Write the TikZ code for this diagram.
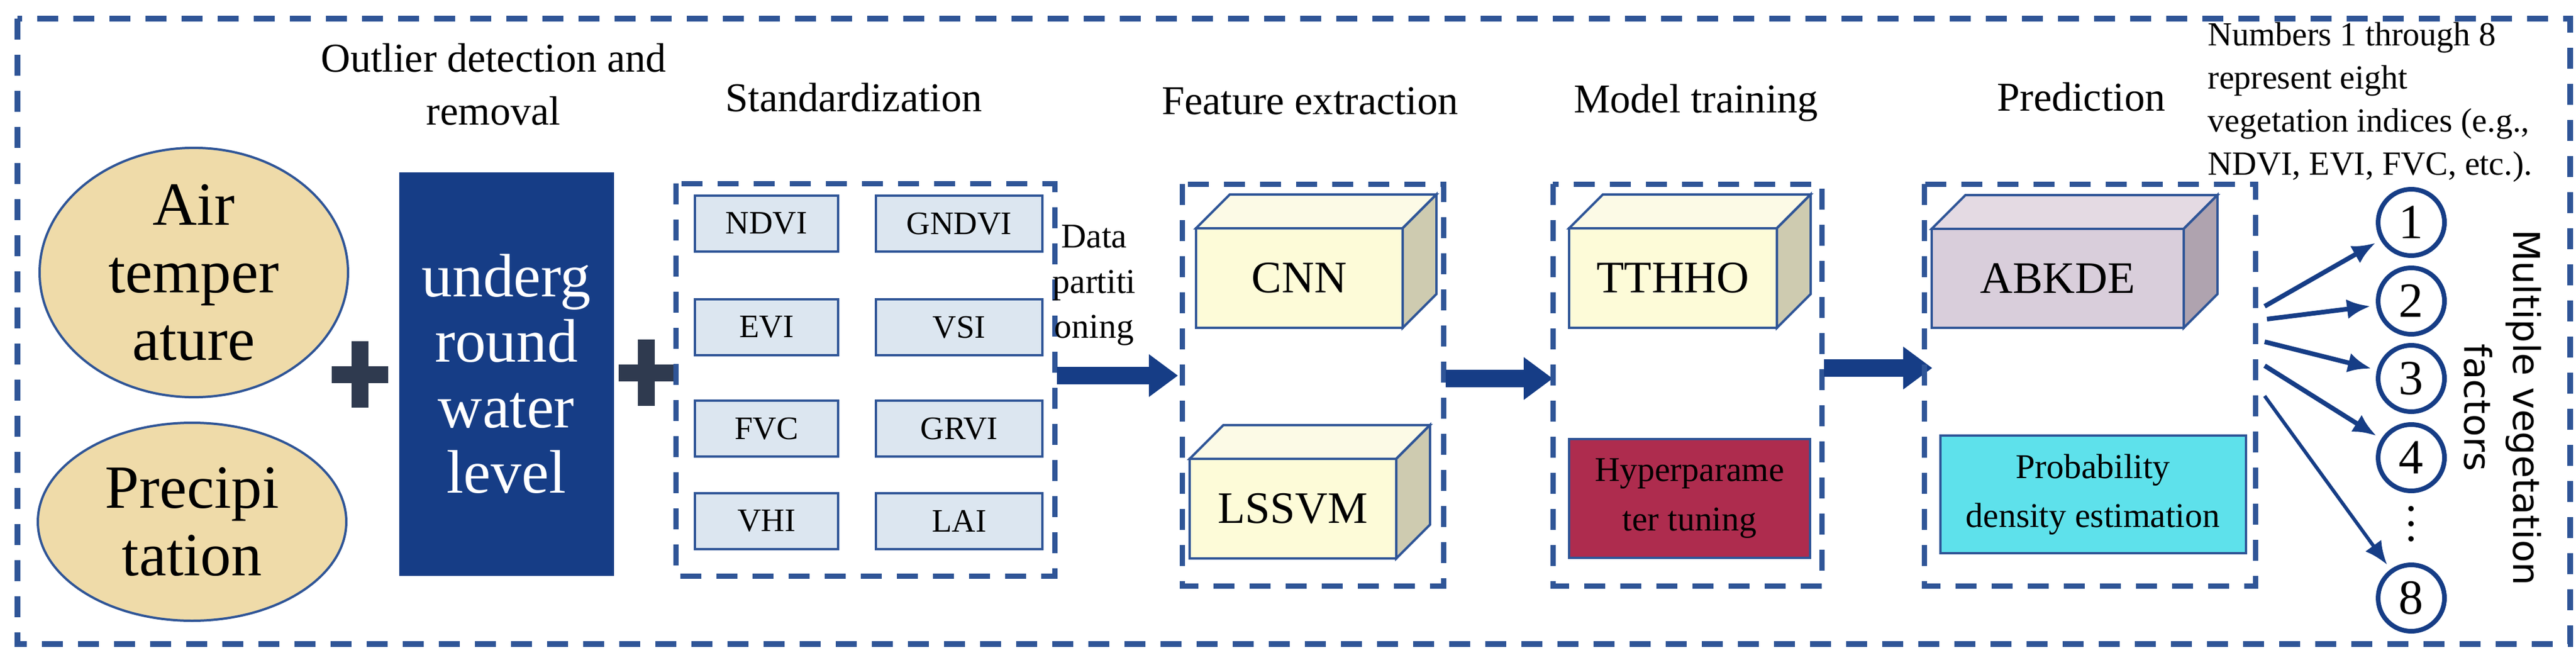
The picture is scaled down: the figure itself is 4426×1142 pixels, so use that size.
\documentclass[tikz,border=0pt]{standalone}
\usepackage{fontspec}
\setmainfont{Liberation Serif}
\newfontfamily\bigserif{Liberation Serif}
\newfontfamily\sansf{DejaVu Sans}
\usetikzlibrary{arrows.meta,shapes.geometric,positioning}

\definecolor{frameblue}{HTML}{2F5597}
\definecolor{deepblue}{HTML}{163D86}
\definecolor{sand}{HTML}{EFDBA9}
\definecolor{paleblue}{HTML}{DCE6F0}
\definecolor{cubefront}{HTML}{FDFBD8}
\definecolor{cubetop}{HTML}{FCFAE6}
\definecolor{cubeside}{HTML}{CECBB0}
\definecolor{lilacfront}{HTML}{D9CEDB}
\definecolor{lilactop}{HTML}{E4DAE3}
\definecolor{lilacside}{HTML}{AFA3AF}
\definecolor{crimson}{HTML}{AE2C4E}
\definecolor{aqua}{HTML}{5EE1EB}
\definecolor{plusgrey}{HTML}{2F3A4F}

\tikzset{
  frame/.style={draw=frameblue, line width=0.9mm, dash pattern=on 3.6mm off 2.6mm},
  title/.style={font=\bigserif\fontsize{20}{26}\selectfont, align=center},
  factor/.style={ellipse, draw=frameblue, line width=0.4mm, fill=sand, minimum width=53mm, minimum height=34mm, inner sep=0pt, align=center, font=\bigserif\fontsize{30}{33}\selectfont},
  index/.style={draw=frameblue, line width=0.4mm, fill=paleblue, minimum width=24.6mm, minimum height=9.6mm, font=\bigserif\fontsize{16}{18}\selectfont},
  bigarrow/.style={draw=deepblue, line width=3mm, -{Triangle[length=5mm, width=7mm]}},
  thinarrow/.style={draw=deepblue, line width=0.8mm, -{Latex[length=4mm, width=3.4mm]}, shorten >=1mm},
  num/.style={circle, draw=deepblue, line width=0.8mm, minimum size=11.4mm, inner sep=0pt, font=\bigserif\fontsize{24}{24}\selectfont},
  plusbar/.style={draw=plusgrey, line width=2.9mm}
}

% cube: name, front box (x1,y1,x2,y2), label, front, top, side colours
\newcommand{\vegcube}[8]{%
  \fill[#7, draw=frameblue, line width=0.4mm] (#2,#3) -- ++(58,-58) -- (#4+58,#3-58) -- (#4,#3) -- cycle;
  \fill[#8, draw=frameblue, line width=0.4mm] (#4,#3) -- (#4+58,#3-58) -- (#4+58,#5-58) -- (#4,#5) -- cycle;
  \node[draw=frameblue, line width=0.4mm, fill=#6, minimum width=#4mm/10-#2mm/10, minimum height=#5mm/10-#3mm/10, font=\bigserif\fontsize{22}{24}\selectfont] (#1) at ({(#2+#4)/2},{(#3+#5)/2}) {#1};%
}

\begin{document}
\begin{tikzpicture}[x=0.1mm, y=-0.1mm]
  \useasboundingbox (0,0) rectangle (4426,1142);

  % outer frame
  \draw[frame, line width=1mm] (30,32) rectangle (4416,1106);

  % inputs
  \node[factor] (air) at (333,468) {Air\\temper\\ature};
  \node[factor] (rain) at (330,896) {Precipi\\tation};
  \coordinate (plusa) at (618,643);
  \draw[plusbar] (plusa) ++(0,-57) -- ++(0,114);
  \draw[plusbar] (plusa) ++(-48,0) -- ++(97,0);

  \node[title] (outlier) at (848,145) {Outlier detection and\\removal};
  \node[fill=deepblue, minimum width=36.9mm, minimum height=69.3mm, text=white, align=center, font=\bigserif\fontsize{30}{32}\selectfont] (water) at (870,642) {underg\\round\\water\\level};
  \coordinate (plusb) at (1110,640);
  \draw[plusbar] (plusb) ++(0,-57) -- ++(0,114);
  \draw[plusbar] (plusb) ++(-47,0) -- ++(94,0);

  % standardization
  \node[title] (std) at (1467,167) {Standardization};
  \draw[frame] (1161,315) rectangle (1812,989);
  \node[index] (ndvi) at (1317,384) {NDVI};
  \node[index, minimum width=28.6mm] (gndvi) at (1648,384) {GNDVI};
  \node[index] (evi) at (1317,562) {EVI};
  \node[index, minimum width=28.6mm] (vsi) at (1648,562) {VSI};
  \node[index] (fvc) at (1317,736) {FVC};
  \node[index, minimum width=28.6mm] (grvi) at (1648,736) {GRVI};
  \node[index] (vhi) at (1317,895) {VHI};
  \node[index, minimum width=28.6mm] (lai) at (1648,895) {LAI};

  \node[font=\bigserif\fontsize{17}{22}\selectfont, align=center] (split) at (1880,490) {Data\\partiti\\oning};
  \coordinate (stdout) at (1816,645);
  \coordinate (featin) at (2024,645);
  \draw[bigarrow] (stdout) -- (featin);

  % feature extraction
  \node[title] (feat) at (2251,174) {Feature extraction};
  \draw[frame] (2031,316) rectangle (2480,1006);
  \vegcube{CNN}{2055}{392}{2410}{563}{cubefront}{cubetop}{cubeside}
  \vegcube{LSSVM}{2044}{788}{2399}{959}{cubefront}{cubetop}{cubeside}
  \coordinate (featout) at (2484,650);
  \coordinate (trainin) at (2668,650);
  \draw[bigarrow] (featout) -- (trainin);

  % model training
  \node[title] (train) at (2914,177) {Model training};
  \draw[frame] (2668,316) rectangle (3130,1006);
  \vegcube{TTHHO}{2696}{392}{3053}{563}{cubefront}{cubetop}{cubeside}
  \node[fill=crimson, draw=frameblue, line width=0.4mm, minimum width=41.4mm, minimum height=20.4mm, align=center, font=\bigserif\fontsize{17}{24}\selectfont] (hyper) at (2903,856) {Hyperparame\\ter tuning};
  \coordinate (trainout) at (3134,632);
  \coordinate (predin) at (3320,632);
  \draw[bigarrow] (trainout) -- (predin);

  % prediction
  \node[title] (pred) at (3576,166) {Prediction};
  \draw[frame] (3306,316) rectangle (3875,1006);
  \vegcube{ABKDE}{3319}{393}{3752}{563}{lilacfront}{lilactop}{lilacside}
  \node[fill=aqua, draw=frameblue, line width=0.4mm, minimum width=52.5mm, minimum height=20.2mm, align=center, font=\bigserif\fontsize{17}{24}\selectfont] (pde) at (3596,849) {Probability\\density estimation};

  % outputs
  \node[font=\bigserif\fontsize{16.5}{21}\selectfont, align=left, anchor=north west, inner sep=0pt] (note) at (3793,38) {Numbers 1 through 8\\represent eight\\vegetation indices (e.g.,\\NDVI, EVI, FVC, etc.).};
  \node[num] (n1) at (4143,382) {1};
  \node[num] (n2) at (4143,517) {2};
  \node[num] (n3) at (4143,650) {3};
  \node[num] (n4) at (4143,786) {4};
  \node[font=\bigserif\fontsize{22}{22}\selectfont] (dots) at (4143,900) {\rotatebox{90}{\dots}};
  \node[num] (n8) at (4143,1027) {8};
  \coordinate (fan1) at (3891,526);
  \coordinate (fan2) at (3895,548);
  \coordinate (fan3) at (3891,587);
  \coordinate (fan4) at (3891,628);
  \coordinate (fan8) at (3891,680);
  \draw[thinarrow] (fan1) -- (n1);
  \draw[thinarrow] (fan2) -- (n2);
  \draw[thinarrow] (fan3) -- (n3);
  \draw[thinarrow] (fan4) -- (n4);
  \draw[thinarrow, line width=0.6mm] (fan8) -- (n8);
  \node[rotate=-90, align=center, font=\sansf\fontsize{18}{24}\selectfont] (multi) at (4300,700) {Multiple vegetation\\factors};
\end{tikzpicture}
\end{document}
